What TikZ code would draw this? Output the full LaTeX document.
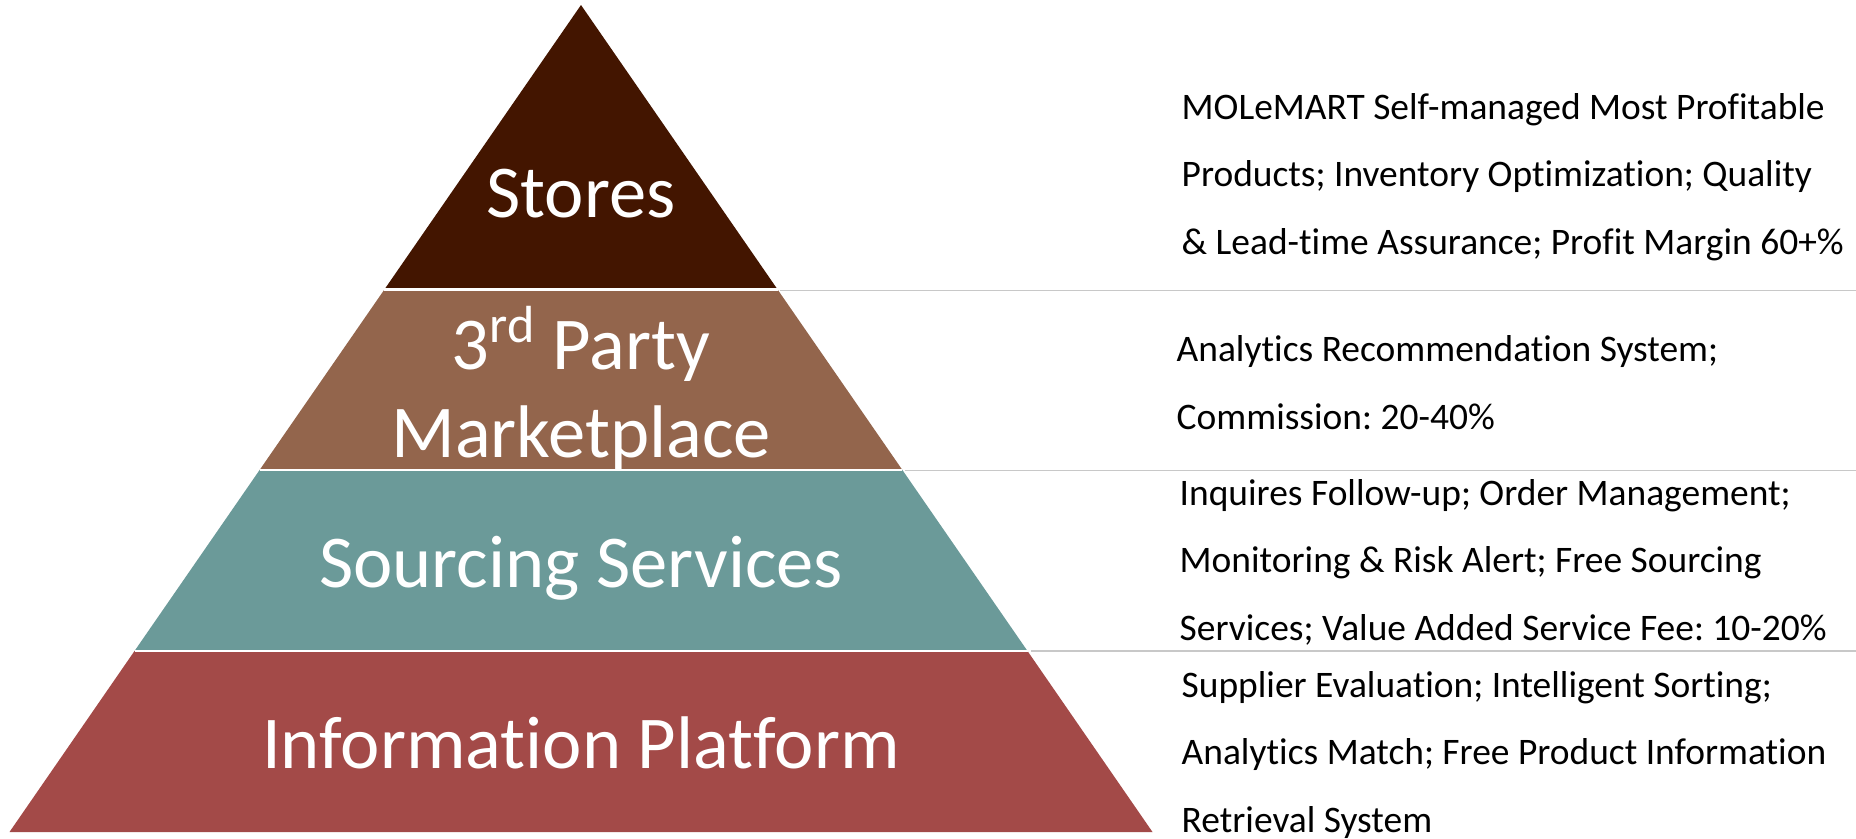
\documentclass[tikz,border=0pt]{standalone}
\usepackage{fontspec}
\setmainfont{Carlito}[Ligatures=NoCommon]
\usetikzlibrary{positioning}
\frenchspacing

\definecolor{storebrown}{HTML}{431500}
\definecolor{marketbrown}{HTML}{93654C}
\definecolor{sourceteal}{HTML}{6B9A99}
\definecolor{infored}{HTML}{A34A48}
\definecolor{rulegray}{HTML}{C8C8C8}

\begin{document}
\begin{tikzpicture}[x=0.01cm, y=-0.01cm,
    gap/.style={draw=white, line width=0.6pt},
    rule/.style={draw=rulegray, line width=0.4pt},
    lbl/.style={text=white, font=\fontsize{21.2}{25}\selectfont, align=center, inner sep=0pt},
    note/.style={font=\fontsize{10.65}{19.06}\selectfont, align=left, inner sep=0pt, anchor=base west}]

    \useasboundingbox (0,0) rectangle (1856,839);

    % corners of the pyramid bands
    \coordinate (apex) at (581,5);
    \coordinate (l1) at (384.4,289.5);  \coordinate (r1) at (777.6,289.5);
    \coordinate (l2) at (259.6,470);    \coordinate (r2) at (902.4,470);
    \coordinate (l3) at (134.5,651);    \coordinate (r3) at (1027.5,651);
    \coordinate (l4) at (9.5,832);      \coordinate (r4) at (1152.5,832);

    % bands
    \fill[storebrown]  (apex) -- (r1) -- (l1) -- cycle;
    \fill[marketbrown] (l1) -- (r1) -- (r2) -- (l2) -- cycle;
    \fill[sourceteal]  (l2) -- (r2) -- (r3) -- (l3) -- cycle;
    \fill[infored]     (l3) -- (r3) -- (r4) -- (l4) -- cycle;

    % white gaps between bands
    \foreach \i in {1,2,3}
        \draw[gap] (l\i) -- (r\i);

    % grey rules to the right
    \coordinate (s1) at (780,290.5);   \coordinate (e1) at (1856,290.5);
    \coordinate (s2) at (905,470.5);   \coordinate (e2) at (1856,470.5);
    \coordinate (s3) at (1031,651);    \coordinate (e3) at (1856,651);
    \foreach \i in {1,2,3}
        \draw[rule] (s\i) -- (e\i);

    % band labels (base = last line)
    \node[lbl, anchor=base] (stores) at (581,217) {Stores};
    \node[lbl, anchor=base] (market) at (581,457) {3\textsuperscript{rd} Party\\Marketplace};
    \node[lbl, anchor=base] (sourcing) at (581,587) {Sourcing Services};
    \node[lbl, anchor=base] (info) at (581,768) {Information Platform};

    % descriptions (base = last line)
    \node[note] (storesnote) at (1181,254) {MOLeMART Self-managed Most Profitable\\Products; Inventory Optimization; Quality\\\& Lead-time Assurance; Profit Margin 60+\%};
    \node[note] (marketnote) at (1176,429) {Analytics Recommendation System;\\Commission: 20-40\%};
    \node[note] (sourcingnote) at (1179,640) {Inquires Follow-up; Order Management;\\Monitoring \& Risk Alert; Free Sourcing\\Services; Value Added Service Fee: 10-20\%};
    \node[note] (infonote) at (1181,832) {Supplier Evaluation; Intelligent Sorting;\\Analytics Match; Free Product Information\\Retrieval System};
\end{tikzpicture}
\end{document}
